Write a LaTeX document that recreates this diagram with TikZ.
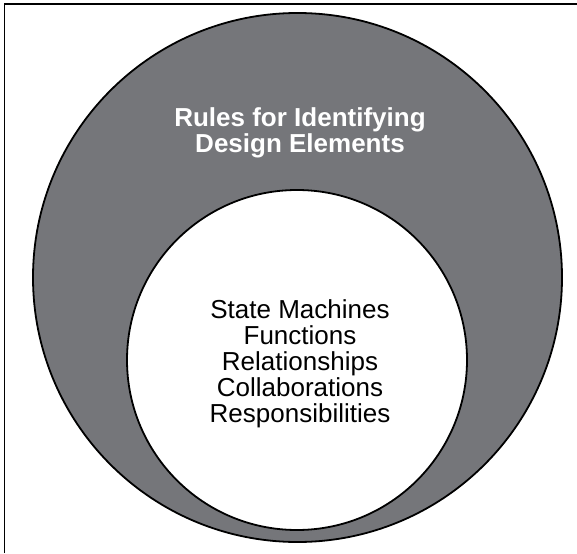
\documentclass[tikz,border=0pt]{standalone}
\usepackage{fontspec}
\setmainfont{Liberation Sans}
\definecolor{ringgray}{RGB}{117,118,122}
\tikzset{
  ring/.style={circle, draw=black, line width=1.8pt, inner sep=0pt},
  listtext/.style={align=center, inner sep=0pt, font=\fontsize{26}{26}\selectfont},
}
\begin{document}
\begin{tikzpicture}[x=1pt, y=-1pt]
  \useasboundingbox (0,0) rectangle (577,553);
  \draw[line width=1.3pt] (4.5,553) -- (4.5,4) -- (577,4);
  \node[ring, fill=ringgray, minimum size=529pt] (outer) at (297.5,277.5) {};
  \node[ring, fill=white, minimum size=340pt] (inner) at (297,360) {};
  \node[listtext, text=white, font=\bfseries\fontsize{26}{26}\selectfont] (rules) at (300,133) {Rules for Identifying\\Design Elements};
  \node[listtext] (elements) at (300,364) {State Machines\\Functions\\Relationships\\Collaborations\\Responsibilities};
\end{tikzpicture}
\end{document}
